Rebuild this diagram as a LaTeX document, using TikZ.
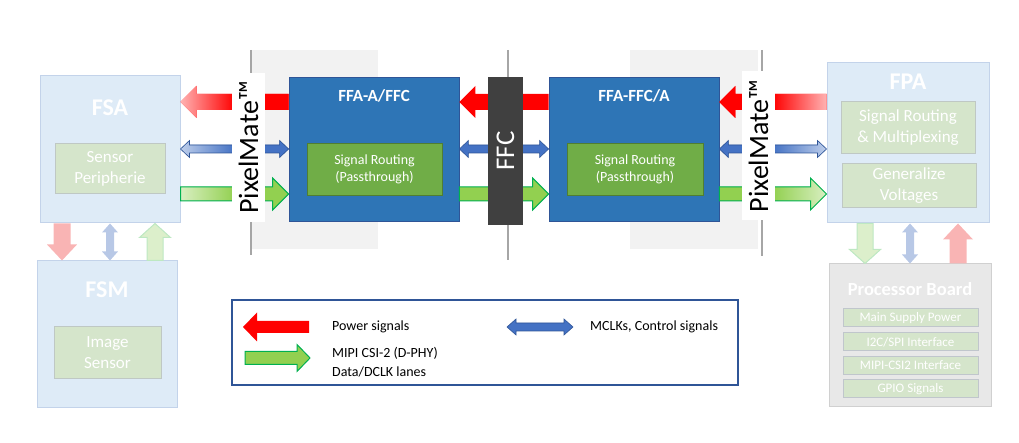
\documentclass[tikz,border=0pt]{standalone}
\usepackage{fontspec}
\setmainfont{Carlito}
\usetikzlibrary{calc,positioning}

\definecolor{ffablue}{HTML}{2E75B6}
\definecolor{ffaline}{HTML}{2F5597}
\definecolor{routgreen}{HTML}{70AD47}
\definecolor{routline}{HTML}{507E32}
\definecolor{modfill}{HTML}{DEEBF7}
\definecolor{modline}{HTML}{C3D3EA}
\definecolor{subfill}{HTML}{D5E5CB}
\definecolor{subline}{HTML}{BFC8C4}
\definecolor{pbfill}{HTML}{E8E8E8}
\definecolor{pbline}{HTML}{D0D0D0}
\definecolor{pbsubline}{HTML}{C0C6CC}
\definecolor{panelgray}{HTML}{F2F2F2}
\definecolor{panelline}{HTML}{A6A6A6}
\definecolor{ffcgray}{HTML}{404040}
\definecolor{sigred}{HTML}{FF0000}
\definecolor{sigblue}{HTML}{4472C4}
\definecolor{sigblueline}{HTML}{2F5597}
\definecolor{siggreen}{HTML}{92D050}
\definecolor{siggreenline}{HTML}{00B050}
\definecolor{palered}{HTML}{F9B4B4}
\definecolor{paleblue}{HTML}{B8C8E6}
\definecolor{palegreen}{HTML}{DCEFCB}
\definecolor{palegreenline}{HTML}{BDE8C2}

\tikzset{
  arrbw/.store in=\arrbw, arrhw/.store in=\arrhw, arrhl/.store in=\arrhl,
  arrbw=8pt, arrhw=16pt, arrhl=16pt,
  one head/.style={to path={
    ($(\tikztostart)!\arrbw!90:(\tikztotarget)$)
    -- ($($(\tikztotarget)!\arrhl!(\tikztostart)$)!\arrbw!90:(\tikztotarget)$)
    -- ($($(\tikztotarget)!\arrhl!(\tikztostart)$)!\arrhw!90:(\tikztotarget)$)
    -- (\tikztotarget)
    -- ($($(\tikztotarget)!\arrhl!(\tikztostart)$)!\arrhw!-90:(\tikztotarget)$)
    -- ($($(\tikztotarget)!\arrhl!(\tikztostart)$)!\arrbw!-90:(\tikztotarget)$)
    -- ($(\tikztostart)!\arrbw!-90:(\tikztotarget)$)
    -- cycle}},
  two heads/.style={to path={
    (\tikztostart)
    -- ($($(\tikztostart)!\arrhl!(\tikztotarget)$)!\arrhw!90:(\tikztotarget)$)
    -- ($($(\tikztostart)!\arrhl!(\tikztotarget)$)!\arrbw!90:(\tikztotarget)$)
    -- ($($(\tikztotarget)!\arrhl!(\tikztostart)$)!\arrbw!90:(\tikztotarget)$)
    -- ($($(\tikztotarget)!\arrhl!(\tikztostart)$)!\arrhw!90:(\tikztotarget)$)
    -- (\tikztotarget)
    -- ($($(\tikztotarget)!\arrhl!(\tikztostart)$)!\arrhw!-90:(\tikztotarget)$)
    -- ($($(\tikztotarget)!\arrhl!(\tikztostart)$)!\arrbw!-90:(\tikztotarget)$)
    -- ($($(\tikztostart)!\arrhl!(\tikztotarget)$)!\arrbw!-90:(\tikztotarget)$)
    -- ($($(\tikztostart)!\arrhl!(\tikztotarget)$)!\arrhw!-90:(\tikztotarget)$)
    -- cycle}},
  power/.style={one head, arrbw=8pt, arrhw=16pt, arrhl=16pt, fill=sigred},
  ctrl/.style={two heads, arrbw=4pt, arrhw=8.5pt, arrhl=9pt, fill=sigblue, draw=sigblueline, line width=0.6pt},
  data/.style={one head, arrbw=7pt, arrhw=16pt, arrhl=16pt, fill=siggreen, draw=siggreenline, line width=1pt},
  pale power/.style={one head, arrbw=8.5pt, arrhw=15pt, arrhl=16pt, fill=palered},
  pale ctrl/.style={two heads, arrbw=4pt, arrhw=8pt, arrhl=9pt, fill=paleblue},
  pale data/.style={one head, arrbw=8pt, arrhw=15.5pt, arrhl=14pt, fill=palegreen, draw=palegreenline, line width=1pt},
}

\begin{document}
\begin{tikzpicture}[x=1pt,y=1pt,
    every node/.style={inner sep=0pt},
    module/.style={draw=modline,fill=modfill,line width=1pt},
    title/.style={text=white,font=\fontsize{24}{28}\selectfont\bfseries},
    sub/.style={draw=subline,fill=subfill,line width=1pt,text=white,align=center,font=\fontsize{17}{21}\selectfont},
    ffa/.style={draw=ffaline,fill=ffablue,line width=0.8pt,minimum width=170,minimum height=144},
    ffatitle/.style={text=white,font=\fontsize{17}{20}\selectfont\bfseries},
    routing/.style={draw=routline,fill=routgreen,line width=0.8pt,text=white,align=center,
      minimum height=52,font=\fontsize{14}{17}\selectfont},
    pboardsub/.style={draw=pbsubline,fill=subfill,line width=1pt,text=white,minimum width=135,
      minimum height=18,font=\fontsize{13}{15}\selectfont},
    pixelmate/.style={fill=white,rotate=90,minimum width=149,minimum height=33,font=\fontsize{28}{30}\selectfont},
    legtext/.style={anchor=west,align=left,font=\fontsize{14}{19}\selectfont}]
\useasboundingbox (0,0) rectangle (1019,443);

% carrier panels behind the adapters
\fill[panelgray] (250,194) rectangle (378,393);
\fill[panelgray] (630,194) rectangle (758,393);
\draw[panelline,line width=1.2pt] (251,393) -- (251,188);
\draw[panelline,line width=1.2pt] (508,393) -- (508,183);
\draw[panelline,line width=1.2pt] (762,393) -- (762,187);

\coordinate (rowP) at (0,341);
\coordinate (rowC) at (0,294);
\coordinate (rowD) at (0,249);

% sensor side
\node[module,minimum width=140,minimum height=147] (fsa) at (110,293.5) {};
\node[title] (fsa-t) at (110,335) {FSA};
\node[sub,minimum width=110,minimum height=50] (fsa-s) at (110,274) {Sensor\\Peripherie};

\node[module,minimum width=140,minimum height=147] (fsm) at (107,108.5) {};
\node[title] (fsm-t) at (107,153) {FSM};
\node[sub,minimum width=107,minimum height=52] (fsm-s) at (107.5,90) {Image\\Sensor};

% adapters
\node[ffa] (ffaa) at (374,294) {};
\node[ffatitle] (ffaa-t) at (374,347) {FFA-A/FFC};
\node[routing,minimum width=135] (ffaa-r) at (374.5,274) {Signal Routing\\(Passthrough)};

\node[ffa] (ffac) at (634,294) {};
\node[ffatitle] (ffac-t) at (634,347) {FFA-FFC/A};
\node[routing,minimum width=136] (ffac-r) at (635,274) {Signal Routing\\(Passthrough)};

% processing side
\node[module,minimum width=162,minimum height=160] (fpa) at (908,300) {};
\node[title] (fpa-t) at (908,361) {FPA};
\node[sub,minimum width=134,minimum height=52] (fpa-s1) at (908,315) {Signal Routing\\\& Multiplexing};
\node[sub,minimum width=134,minimum height=44] (fpa-s2) at (909,257) {Generalize\\Voltages};

\node[draw=pbline,fill=pbfill,line width=1pt,minimum width=162,minimum height=143] (pboard) at (910,107.5) {};
\node[title,font=\fontsize{18.5}{22}\selectfont\bfseries] (pboard-t) at (910,154) {Processor Board};
\node[pboardsub] (pb1) at (910.5,125) {Main Supply Power};
\node[pboardsub] (pb2) at (910.5,101) {I2C/SPI Interface};
\node[pboardsub] (pb3) at (910.5,77.5) {MIPI-CSI2 Interface};
\node[pboardsub] (pb4) at (910.5,54) {GPIO Signals};

% horizontal signals
\path[power,left color=sigred!30,right color=sigred,middle color=sigred] (ffaa.west |- rowP) to (fsa.east |- rowP);
\path[ctrl,left color=sigblue!35,right color=sigblue,middle color=sigblue] (fsa.east |- rowC) to (ffaa.west |- rowC);
\path[data,left color=siggreen!35,right color=siggreen,middle color=siggreen] (fsa.east |- rowD) to (ffaa.west |- rowD);

\path[power] (ffac.west |- rowP) to (ffaa.east |- rowP);
\path[ctrl] (ffaa.east |- rowC) to (ffac.west |- rowC);
\path[data] (ffaa.east |- rowD) to (ffac.west |- rowD);

\path[power,left color=sigred,right color=sigred!30,middle color=sigred] (fpa.west |- rowP) to (ffac.east |- rowP);
\path[ctrl,left color=sigblue,right color=sigblue!35,middle color=sigblue] (ffac.east |- rowC) to (fpa.west |- rowC);
\path[data,left color=siggreen,right color=siggreen!35,middle color=siggreen] (ffac.east |- rowD) to (fpa.west |- rowD);

% vertical signals
\coordinate (colR) at (62,0);
\coordinate (colC) at (110,0);
\coordinate (colD) at (155,0);
\path[pale power] (fsa.south -| colR) to (fsm.north -| colR);
\path[pale ctrl] (fsa.south -| colC) to (fsm.north -| colC);
\path[pale data] (fsm.north -| colD) to (fsa.south -| colD);

\coordinate (colD2) at (865,0);
\coordinate (colC2) at (910,0);
\coordinate (colR2) at (958,0);
\path[pale data] (fpa.south -| colD2) to (pboard.north -| colD2);
\path[pale ctrl] (fpa.south -| colC2) to (pboard.north -| colC2);
\path[pale power] (pboard.north -| colR2) to (fpa.south -| colR2);

% connectors on top
\node[pixelmate] (pmleft) at (248.5,295.5) {PixelMate\texttrademark};
\node[pixelmate] (pmright) at (758.5,297) {PixelMate\texttrademark};
\node[fill=ffcgray,rotate=90,minimum width=148,minimum height=35,text=white,
  font=\fontsize{27}{30}\selectfont] (ffc) at (505.5,292) {FFC};

% legend
\node[draw=ffaline,line width=1.2pt,minimum width=506,minimum height=85] (legend) at (485,100.5) {};
\coordinate (legP1) at (309,116);
\coordinate (legP2) at (243,116);
\coordinate (legD1) at (245,85);
\coordinate (legD2) at (310,85);
\coordinate (legC1) at (507,116);
\coordinate (legC2) at (573,116);
\path[power,arrbw=6pt,arrhw=14.5pt,arrhl=14pt] (legP1) to (legP2);
\path[data,arrbw=6.5pt,arrhw=13.5pt,arrhl=13pt] (legD1) to (legD2);
\path[ctrl,arrhw=8pt,arrhl=9pt] (legC1) to (legC2);
\node[legtext] (legP) at (332,116) {Power signals};
\node[legtext] (legD) at (332,80.5) {MIPI CSI-2 (D-PHY)\\Data/DCLK lanes};
\node[legtext] (legC) at (590,116) {MCLKs, Control signals};
\end{tikzpicture}
\end{document}
